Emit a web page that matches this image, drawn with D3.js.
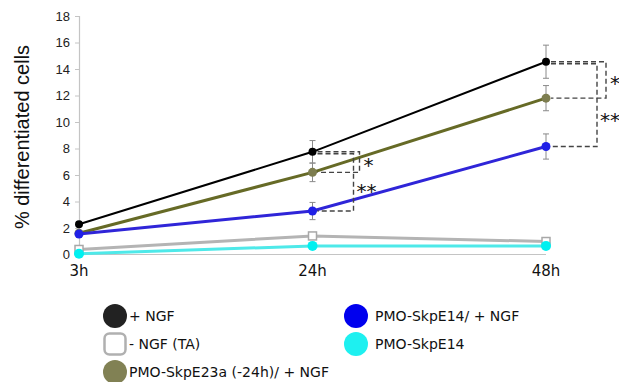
<!DOCTYPE html>
<html>
<head>
<meta charset="utf-8">
<script src="https://cdn.jsdelivr.net/npm/d3@7"></script>
<style>
  body { margin: 0; background: #fff; }
  svg { display: block; }
</style>
</head>
<body>
<div id="chart"></div>
<script>
// values
const times = ["3h", "24h", "48h"];
const yTicks = [0, 2, 4, 6, 8, 10, 12, 14, 16, 18];

const ngf      = [2.28, 7.75, 14.55];
const ngfErr   = [0.15, 0.85, 1.25];
const skp23    = [1.6, 6.2, 11.8];
const skp23Err = [0.1, 0.7, 0.95];
const skp14N   = [1.55, 3.28, 8.15];
const skp14NErr = [0.1, 0.65, 0.95];
const noNgf    = [0.38, 1.4, 0.98];
const noNgfErr = [0.15, 0.2, 0.22];
const skp14    = [0.05, 0.65, 0.65];
const skp14Err = [0.05, 0.15, 0.1];

const seriesNames = ["+ NGF", "- NGF (TA)", "PMO-SkpE23a (-24h)/ + NGF", "PMO-SkpE14/ + NGF", "PMO-SkpE14"];

// significance brackets: [time, upper series, lower series, label]
const brackets = [
  ["24h", 0, 2, "*"],
  ["24h", 0, 3, "**"],
  ["48h", 0, 2, "*"],
  ["48h", 0, 3, "**"]
];

const series = [
  {name: seriesNames[1], values: noNgf, err: noNgfErr, line: "#b4b4b4", fill: "#fff", stroke: "#a8a8a8", shape: "square", lw: 3},
  {name: seriesNames[4], values: skp14, err: skp14Err, line: "#4ee9e9", fill: "#00f0f0", stroke: "#00f0f0", shape: "circle", r: 5, lw: 3},
  {name: seriesNames[0], values: ngf, err: ngfErr, line: "#000", fill: "#000", stroke: "#000", shape: "circle", r: 4, lw: 2},
  {name: seriesNames[2], values: skp23, err: skp23Err, line: "#666a26", fill: "#7d7d4f", stroke: "#7d7d4f", shape: "circle", r: 4.5, lw: 3},
  {name: seriesNames[3], values: skp14N, err: skp14NErr, line: "#2f25d8", fill: "#2020e6", stroke: "#2020e6", shape: "circle", r: 4.5, lw: 3}
];
const byName = n => series.find(s => s.name === n);

const width = 619, height = 382;
const svg = d3.select("#chart").append("svg")
    .attr("width", width)
    .attr("height", height);

const x = d3.scalePoint().domain(times).range([79, 546]);
const y = d3.scaleLinear().domain([0, 18]).range([254.5, 16]);

// y axis
const yAxis = svg.append("g")
    .attr("transform", "translate(79,0)")
    .call(d3.axisLeft(y).tickValues(yTicks).tickSize(4).tickPadding(5));
yAxis.select(".domain").attr("stroke", "#c4c4c4").attr("stroke-width", 1.2);
yAxis.selectAll(".tick line").attr("stroke", "#c4c4c4");
yAxis.selectAll(".tick text")
    .attr("fill", "#222")
    .style("font", "13px 'Liberation Sans', Arial, sans-serif");

// x axis
svg.append("line")
    .attr("x1", x("3h")).attr("x2", x("48h"))
    .attr("y1", y(0)).attr("y2", y(0))
    .attr("stroke", "#c4c4c4").attr("stroke-width", 1.2);
svg.append("g").selectAll("text")
    .data(times)
    .join("text")
    .attr("x", d => x(d))
    .attr("y", 276)
    .attr("text-anchor", "middle")
    .attr("fill", "#111")
    .style("font", "15px 'DejaVu Sans', sans-serif")
    .text(d => d);

// y title
svg.append("text")
    .attr("transform", "translate(29,137) rotate(-90)")
    .attr("text-anchor", "middle")
    .attr("fill", "#111")
    .style("font", "20px 'Liberation Sans', Arial, sans-serif")
    .text("% differentiated cells");

// error bars
const ebar = svg.append("g").attr("stroke", "#8a8a8a").attr("stroke-width", 1);
series.forEach(s => {
  s.values.forEach((v, i) => {
    const cx = x(times[i]);
    const y0 = y(v - s.err[i]), y1 = y(v + s.err[i]);
    ebar.append("line").attr("x1", cx).attr("x2", cx).attr("y1", y0).attr("y2", y1);
    ebar.append("line").attr("x1", cx - 3).attr("x2", cx + 3).attr("y1", y0).attr("y2", y0);
    ebar.append("line").attr("x1", cx - 3).attr("x2", cx + 3).attr("y1", y1).attr("y2", y1);
  });
});

// lines + markers
const line = d3.line().x((d, i) => x(times[i])).y(d => y(d));
series.forEach(s => {
  svg.append("path")
      .attr("d", line(s.values))
      .attr("fill", "none")
      .attr("stroke", s.line)
      .attr("stroke-width", s.lw);
  const g = svg.append("g");
  if (s.shape === "square") {
    g.selectAll("rect").data(s.values).join("rect")
        .attr("x", (d, i) => x(times[i]) - 4)
        .attr("y", d => y(d) - 4)
        .attr("width", 8).attr("height", 8)
        .attr("fill", s.fill).attr("stroke", s.stroke).attr("stroke-width", 1.5);
  } else {
    g.selectAll("circle").data(s.values).join("circle")
        .attr("cx", (d, i) => x(times[i]))
        .attr("cy", d => y(d))
        .attr("r", s.r)
        .attr("fill", s.fill);
  }
});

// significance brackets
const bracketX = {"24h": {"*": 47, "**": 41}, "48h": {"*": 60, "**": 51}};
const bg = svg.append("g")
    .attr("fill", "none")
    .attr("stroke", "#444")
    .attr("stroke-width", 1.4)
    .attr("stroke-dasharray", "5,3");
brackets.forEach(([t, a, b, lab]) => {
  const cx = x(t);
  const bx = cx + bracketX[t][lab];
  const off = lab === "**" ? 2 : 0;
  const ya = y(ngf[times.indexOf(t)]) + off;
  const sb = byName(seriesNames[b]);
  const yb = y(sb.values[times.indexOf(t)]);
  bg.append("path").attr("d", `M${cx + 5},${ya}H${bx}V${yb}H${cx + 5}`);
  svg.append("text")
      .attr("x", bx + (lab === "*" ? 9 : 13))
      .attr("y", (ya + yb) / 2 + (lab === "*" ? 10 : 16) + (t === "48h" && lab === "**" ? 6 : 0))
      .attr("text-anchor", "middle")
      .attr("fill", "#111")
      .style("font", "20px 'DejaVu Sans', sans-serif")
      .text(lab);
});

// legend
const legend = [
  {s: 2, lx: 115, ly: 316},
  {s: 0, lx: 115, ly: 344},
  {s: 3, lx: 115, ly: 372},
  {s: 4, lx: 356, ly: 316},
  {s: 1, lx: 356, ly: 344}
];
const lg = svg.append("g");
legend.forEach(l => {
  const s = series[l.s];
  if (s.shape === "square") {
    lg.append("rect")
        .attr("x", l.lx - 10.5).attr("y", l.ly - 10.5)
        .attr("width", 21).attr("height", 21).attr("rx", 5)
        .attr("fill", "#fff").attr("stroke", "#b0b0b0").attr("stroke-width", 2.5);
  } else {
    lg.append("circle")
        .attr("cx", l.lx).attr("cy", l.ly).attr("r", 12)
        .attr("fill", s.name === seriesNames[0] ? "#222" :
              s.name === seriesNames[3] ? "#0000ee" :
              s.name === seriesNames[4] ? "#1ef0f0" : "#818154");
  }
  lg.append("text")
      .attr("x", l.lx + (l.lx > 200 ? 19 : 14))
      .attr("y", l.ly + 5)
      .attr("fill", "#111")
      .style("font", "14px 'DejaVu Sans', sans-serif")
      .text(s.name);
});
</script>
</body>
</html>
